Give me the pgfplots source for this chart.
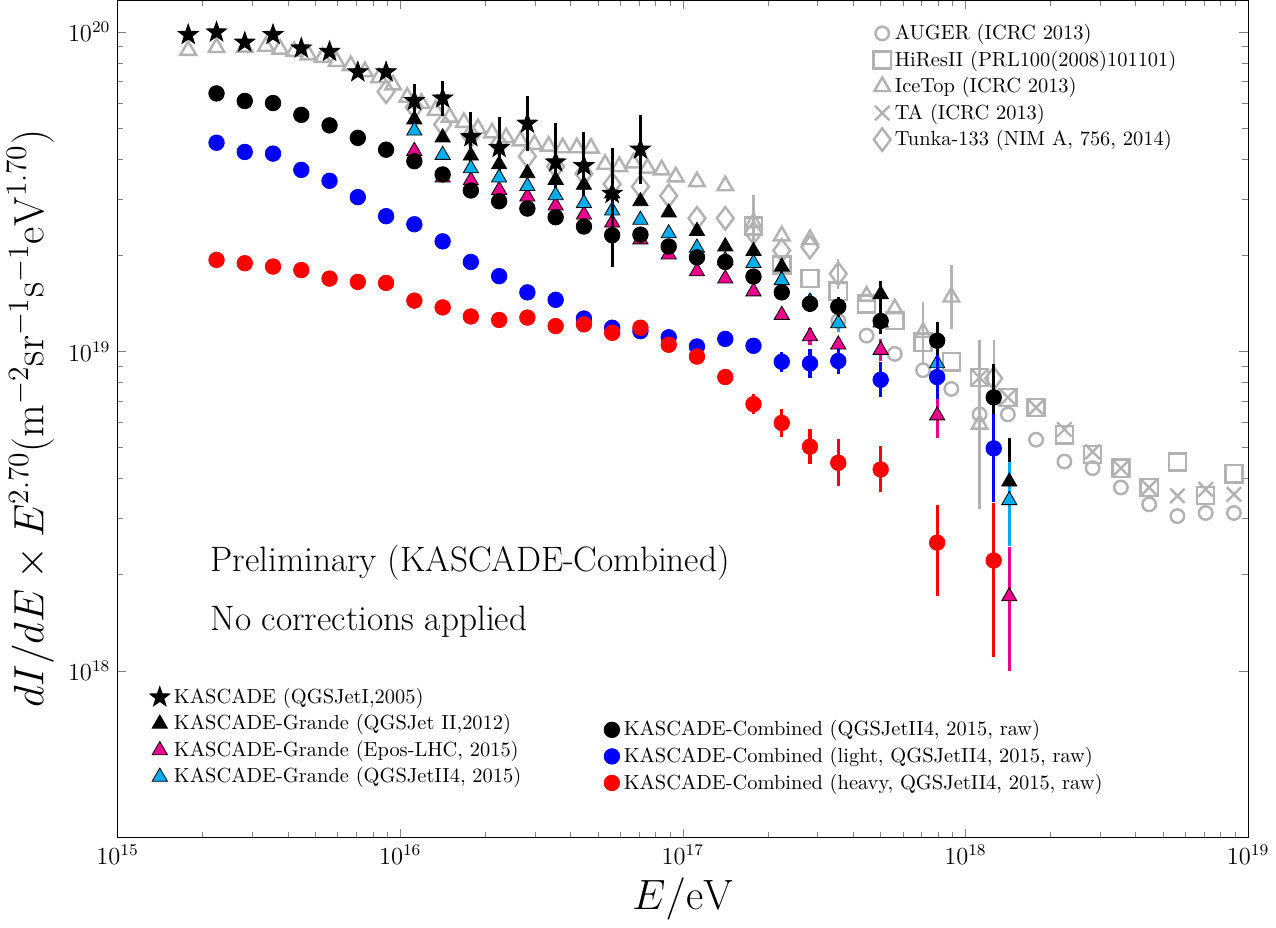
\documentclass[border=0pt]{standalone}
\usepackage{pgfplots}
\pgfplotsset{compat=1.18}
\usetikzlibrary{plotmarks}
\definecolor{gry}{RGB}{178,178,178}
\pgfdeclareplotmark{fstar}{%
 \pgfpathmoveto{\pgfpointpolar{90}{\pgfplotmarksize}}%
 \pgfpathlineto{\pgfpointpolar{126}{0.4\pgfplotmarksize}}%
 \pgfpathlineto{\pgfpointpolar{162}{\pgfplotmarksize}}%
 \pgfpathlineto{\pgfpointpolar{198}{0.4\pgfplotmarksize}}%
 \pgfpathlineto{\pgfpointpolar{234}{\pgfplotmarksize}}%
 \pgfpathlineto{\pgfpointpolar{270}{0.4\pgfplotmarksize}}%
 \pgfpathlineto{\pgfpointpolar{306}{\pgfplotmarksize}}%
 \pgfpathlineto{\pgfpointpolar{342}{0.4\pgfplotmarksize}}%
 \pgfpathlineto{\pgfpointpolar{18}{\pgfplotmarksize}}%
 \pgfpathlineto{\pgfpointpolar{54}{0.4\pgfplotmarksize}}%
 \pgfpathclose
 \pgfusepathqfillstroke}
\begin{document}
\begin{tikzpicture}
\begin{axis}[xmode=log, ymode=log, scale only axis, width=553.5pt, height=409.85pt,
  xmin=1e15, xmax=1e19, ymin=3.01e17, ymax=1.256e20, unbounded coords=jump,
  legend style={at={(0.663,0.9817)}, anchor=north west, draw=none, fill=none},
  legend cell align=left,
  xtick={1e15,1e16,1e17,1e18,1e19}, ytick={1e18,1e19,1e20},
  tick align=inside,
  xlabel={$E/\mathrm{eV}$},
  ylabel={$dI/dE\times E^{2.70}(\mathrm{m}^{-2}\mathrm{sr}^{-1}\mathrm{s}^{-1}\mathrm{eV}^{1.70})$},
  x label style={font=\huge}, y label style={font=\huge},
  tick label style={font=\large},
]
\addplot[gry, line width=1.2pt, forget plot] coordinates {
(1.778e17,1.981e19) (1.778e17,3.08e19) (1.778e17,nan)
(7.079e17,9.19e18) (7.079e17,1.429e19) (7.079e17,nan)
(8.913e17,1.178e19) (8.913e17,1.859e19) (8.913e17,nan)
(1.122e18,3.215e18) (1.122e18,1.089e19) (1.122e18,nan)
(3.548e17,1.568e19) (3.548e17,1.953e19) (3.548e17,nan)
(1.259e18,6.222e18) (1.259e18,1.088e19)};
\addplot[gry, only marks, mark=o, mark size=3.3pt, mark options={line width=1.2pt}] coordinates {
(3.548e17,1.245e19) (4.467e17,1.12e19) (5.623e17,9.82e18) (7.079e17,8.73e18) (8.913e17,7.63e18)
(1.122e18,6.35e18) (1.413e18,6.35e18) (1.778e18,5.29e18) (2.239e18,4.52e18) (2.818e18,4.31e18)
(3.548e18,3.75e18) (4.467e18,3.32e18) (5.623e18,3.05e18) (7.079e18,3.12e18) (8.913e18,3.12e18)};
\addlegendentry{AUGER (ICRC 2013)}
\addplot[gry, only marks, mark=square, mark size=4.2pt, mark options={line width=1.2pt}] coordinates {
(1.778e17,2.47e19) (2.239e17,1.865e19) (2.818e17,1.69e19) (3.548e17,1.543e19) (4.467e17,1.407e19)
(5.623e17,1.251e19) (7.079e17,1.068e19) (8.913e17,9.28e18) (1.122e18,8.29e18) (1.413e18,7.18e18)
(1.778e18,6.67e18) (2.239e18,5.48e18) (2.818e18,4.76e18) (3.548e18,4.31e18) (4.467e18,3.75e18)
(5.623e18,4.51e18) (7.079e18,3.54e18) (8.913e18,4.14e18)};
\addlegendentry{HiResII (PRL100(2008)101101)}
\addplot[gry, only marks, mark=triangle, mark size=4.4pt, mark options={line width=1.2pt}] coordinates {
(1.778e15,8.76e19) (2.239e15,8.94e19) (2.818e15,8.96e19) (3.350e15,9.02e19) (3.758e15,8.83e19)
(4.217e15,8.70e19) (4.732e15,8.48e19) (5.309e15,8.32e19) (5.957e15,8.08e19) (6.683e15,7.85e19)
(7.499e15,7.51e19) (8.414e15,7.19e19) (9.441e15,6.83e19) (1.059e16,6.25e19) (1.189e16,5.98e19)
(1.334e16,5.68e19) (1.496e16,5.41e19) (1.679e16,5.21e19) (1.884e16,4.98e19) (2.113e16,4.83e19)
(2.371e16,4.67e19) (2.661e16,4.56e19) (2.985e16,4.45e19) (3.350e16,4.39e19) (3.758e16,4.34e19)
(4.217e16,4.34e19) (4.732e16,4.33e19) (5.309e16,3.85e19) (5.957e16,3.79e19) (6.683e16,3.89e19)
(7.499e16,3.75e19) (8.414e16,3.70e19) (9.441e16,3.52e19) (1.122e17,3.40e19) (1.413e17,3.30e19)
(1.778e17,2.53e19) (2.239e17,2.30e19) (2.818e17,2.24e19) (4.467e17,1.49e19) (5.623e17,1.36e19)
(7.079e17,1.146e19) (8.913e17,1.48e19) (1.122e18,5.92e18)};
\addlegendentry{IceTop (ICRC 2013)}
\addplot[gry, only marks, mark=x, mark size=5pt, mark options={line width=1.2pt}] coordinates {
(1.122e18,8.29e18) (1.413e18,7.18e18) (1.778e18,6.67e18) (2.239e18,5.70e18) (2.818e18,4.85e18)
(3.548e18,4.31e18) (4.467e18,3.75e18) (5.623e18,3.53e18) (7.079e18,3.70e18) (8.913e18,3.57e18)};
\addlegendentry{TA (ICRC 2013)}
\addplot[gry, only marks, mark=diamond, mark size=5.5pt, mark options={line width=1.2pt}] coordinates {
(8.913e15,6.50e19) (1.122e16,5.81e19) (1.413e16,5.13e19) (1.778e16,4.73e19) (2.239e16,4.45e19)
(2.818e16,4.08e19) (3.548e16,3.79e19) (4.467e16,3.60e19) (5.623e16,3.34e19) (7.079e16,3.28e19)
(8.913e16,3.07e19) (1.122e17,2.61e19) (1.413e17,2.61e19) (1.778e17,2.35e19) (2.239e17,2.07e19)
(2.818e17,2.12e19) (3.548e17,1.75e19) (1.259e18,8.23e18)};
\addlegendentry{Tunka-133 (NIM A, 756, 2014)}
\end{axis}
\begin{axis}[xmode=log, ymode=log, scale only axis, width=553.5pt, height=409.85pt,
  xmin=1e15, xmax=1e19, ymin=3.01e17, ymax=1.256e20, hide axis, unbounded coords=jump,
  legend style={at={(0.0226,0.1887)}, anchor=north west, draw=none, fill=none},
  legend cell align=left]
\addplot[black, line width=1.5pt, forget plot] coordinates {
(1.122e16,5.414e19) (1.122e16,6.851e19) (1.122e16,nan)
(1.413e16,5.475e19) (1.413e16,7.025e19) (1.413e16,nan)
(1.778e16,3.907e19) (1.778e16,5.633e19) (1.778e16,nan)
(2.239e16,3.481e19) (2.239e16,5.412e19) (2.239e16,nan)
(2.818e16,4.239e19) (2.818e16,6.302e19) (2.818e16,nan)
(3.548e16,2.956e19) (3.548e16,5.169e19) (3.548e16,nan)
(4.467e16,2.991e19) (4.467e16,4.854e19) (4.467e16,nan)
(5.623e16,2.240e19) (5.623e16,4.343e19) (5.623e16,nan)
(7.079e16,3.342e19) (7.079e16,5.508e19) (7.079e16,nan)
(2.239e17,1.730e19) (2.239e17,1.950e19) (2.239e17,nan)
(5.012e17,1.372e19) (5.012e17,1.661e19) (5.012e17,nan)
(1.429e18,2.596e18) (1.429e18,5.349e18)};
\addplot[magenta, line width=1.5pt, forget plot] coordinates {
(2.818e17,1.048e19) (2.818e17,1.182e19) (2.818e17,nan)
(3.548e17,0.987e19) (3.548e17,1.113e19) (3.548e17,nan)
(5.012e17,0.931e19) (5.012e17,1.095e19) (5.012e17,nan)
(7.943e17,5.361e18) (7.943e17,7.403e18) (7.943e17,nan)
(1.429e18,9.97e17) (1.429e18,2.447e18)};
\addplot[cyan, line width=1.5pt, forget plot] coordinates {
(2.818e17,1.344e19) (2.818e17,1.516e19) (2.818e17,nan)
(3.548e17,1.151e19) (3.548e17,1.297e19) (3.548e17,nan)
(5.012e17,1.132e19) (5.012e17,1.328e19) (5.012e17,nan)
(7.943e17,8.25e18) (7.943e17,1.009e19) (7.943e17,nan)
(1.429e18,2.452e18) (1.429e18,4.511e18)};
\addplot[black, only marks, mark=fstar, mark size=5.2pt] coordinates {
(1.778e15,9.80e19) (2.239e15,9.98e19) (2.818e15,9.27e19) (3.548e15,9.80e19) (4.467e15,8.89e19)
(5.623e15,8.68e19) (7.079e15,7.49e19) (8.913e15,7.49e19) (1.122e16,6.09e19) (1.413e16,6.20e19)
(1.778e16,4.69e19) (2.239e16,4.34e19) (2.818e16,5.17e19) (3.548e16,3.91e19) (4.467e16,3.81e19)
(5.623e16,3.12e19) (7.079e16,4.29e19)};
\addlegendentry{KASCADE (QGSJetI,2005)}
\addplot[black, only marks, mark=triangle*, mark size=4.3pt] coordinates {
(1.122e16,5.32e19) (1.413e16,4.67e19) (1.778e16,4.10e19) (2.239e16,3.85e19) (2.818e16,3.61e19)
(3.548e16,3.44e19) (4.467e16,3.32e19) (5.623e16,3.12e19) (7.079e16,2.95e19) (8.913e16,2.72e19)
(1.122e17,2.38e19) (1.413e17,2.13e19) (1.778e17,2.06e19) (2.239e17,1.84e19) (5.012e17,1.51e19)
(1.429e18,3.91e18)};
\addlegendentry{KASCADE-Grande (QGSJet II,2012)}
\addplot[magenta, only marks, mark=triangle*, mark size=4.3pt, mark options={fill=magenta, draw=black}] coordinates {
(1.122e16,4.24e19) (1.413e16,3.50e19) (1.778e16,3.43e19) (2.239e16,3.20e19) (2.818e16,3.05e19)
(3.548e16,2.86e19) (4.467e16,2.68e19) (5.623e16,2.53e19) (7.079e16,2.24e19) (8.913e16,2.01e19)
(1.122e17,1.78e19) (1.413e17,1.69e19) (1.778e17,1.54e19) (2.239e17,1.30e19) (2.818e17,1.115e19)
(3.548e17,1.05e19) (5.012e17,1.01e19) (7.943e17,6.30e18) (1.429e18,1.71e18)};
\addlegendentry{KASCADE-Grande (Epos-LHC, 2015)}
\addplot[cyan, only marks, mark=triangle*, mark size=4.3pt, mark options={fill=cyan, draw=black}] coordinates {
(1.122e16,4.91e19) (1.413e16,4.12e19) (1.778e16,3.74e19) (2.239e16,3.50e19) (2.818e16,3.29e19)
(3.548e16,3.08e19) (4.467e16,2.91e19) (5.623e16,2.76e19) (7.079e16,2.58e19) (8.913e16,2.34e19)
(1.122e17,2.11e19) (1.413e17,1.93e19) (1.778e17,1.89e19) (2.239e17,1.67e19) (2.818e17,1.43e19)
(3.548e17,1.224e19) (5.012e17,1.23e19) (7.943e17,9.17e18) (1.429e18,3.42e18)};
\addlegendentry{KASCADE-Grande (QGSJetII4, 2015)}
\end{axis}
\begin{axis}[xmode=log, ymode=log, scale only axis, width=553.5pt, height=409.85pt,
  xmin=1e15, xmax=1e19, ymin=3.01e17, ymax=1.256e20, hide axis, unbounded coords=jump,
  legend style={at={(0.4246,0.1497)}, anchor=north west, draw=none, fill=none},
  legend cell align=left]
\addplot[black, line width=1.5pt, forget plot] coordinates {
(5.623e16,1.839e19) (5.623e16,2.901e19) (5.623e16,nan)
(2.818e17,1.325e19) (2.818e17,1.495e19) (2.818e17,nan)
(3.548e17,1.282e19) (3.548e17,1.485e19) (3.548e17,nan)
(5.012e17,1.132e19) (5.012e17,1.370e19) (5.012e17,nan)
(7.943e17,0.946e19) (7.943e17,1.232e19) (7.943e17,nan)
(1.259e18,5.636e18) (1.259e18,9.147e18)};
\addplot[black, only marks, mark=*, mark size=3.8pt] coordinates {
(2.239e15,6.42e19) (2.818e15,6.08e19) (3.548e15,5.99e19) (4.467e15,5.50e19) (5.623e15,5.10e19)
(7.079e15,4.66e19) (8.913e15,4.28e19) (1.122e16,3.94e19) (1.413e16,3.58e19) (1.778e16,3.19e19)
(2.239e16,2.95e19) (2.818e16,2.80e19) (3.548e16,2.63e19) (4.467e16,2.46e19) (5.623e16,2.31e19)
(7.079e16,2.32e19) (8.913e16,2.13e19) (1.122e17,1.97e19) (1.413e17,1.905e19) (1.778e17,1.715e19)
(2.239e17,1.53e19) (2.818e17,1.41e19) (3.548e17,1.38e19) (5.012e17,1.245e19) (7.943e17,1.08e19)
(1.259e18,7.18e18)};
\addlegendentry{KASCADE-Combined (QGSJetII4, 2015, raw)}
\addplot[blue, line width=1.5pt, forget plot] coordinates {
(2.239e17,8.621e18) (2.239e17,9.985e18) (2.239e17,nan)
(2.818e17,8.271e18) (2.818e17,1.016e19) (2.818e17,nan)
(3.548e17,8.481e18) (3.548e17,1.026e19) (3.548e17,nan)
(5.012e17,7.196e18) (5.012e17,9.234e18) (5.012e17,nan)
(7.943e17,7.072e18) (7.943e17,9.764e18) (7.943e17,nan)
(1.259e18,3.365e18) (1.259e18,6.381e18)};
\addplot[blue, only marks, mark=*, mark size=3.8pt] coordinates {
(2.239e15,4.50e19) (2.818e15,4.21e19) (3.548e15,4.16e19) (4.467e15,3.70e19) (5.623e15,3.42e19)
(7.079e15,3.04e19) (8.913e15,2.65e19) (1.122e16,2.50e19) (1.413e16,2.21e19) (1.778e16,1.905e19)
(2.239e16,1.72e19) (2.818e16,1.53e19) (3.548e16,1.45e19) (4.467e16,1.267e19) (5.623e16,1.186e19)
(7.079e16,1.157e19) (8.913e16,1.107e19) (1.122e17,1.036e19) (1.413e17,1.094e19) (1.778e17,1.041e19)
(2.239e17,9.28e18) (2.818e17,9.17e18) (3.548e17,9.33e18) (5.012e17,8.15e18) (7.943e17,8.31e18)
(1.259e18,4.97e18)};
\addlegendentry{KASCADE-Combined (light, QGSJetII4, 2015, raw)}
\addplot[red, line width=1.5pt, forget plot] coordinates {
(1.413e17,7.936e18) (1.413e17,8.684e18) (1.413e17,nan)
(1.778e17,6.354e18) (1.778e17,7.36e18) (1.778e17,nan)
(2.239e17,5.385e18) (2.239e17,6.615e18) (2.239e17,nan)
(2.818e17,4.441e18) (2.818e17,5.699e18) (2.818e17,nan)
(3.548e17,3.786e18) (3.548e17,5.304e18) (3.548e17,nan)
(5.012e17,3.621e18) (5.012e17,5.039e18) (5.012e17,nan)
(7.943e17,1.721e18) (7.943e17,3.306e18) (7.943e17,nan)
(1.259e18,1.103e18) (1.259e18,3.360e18)};
\addplot[red, only marks, mark=*, mark size=3.8pt] coordinates {
(2.239e15,1.934e19) (2.818e15,1.888e19) (3.548e15,1.843e19) (4.467e15,1.797e19) (5.623e15,1.69e19)
(7.079e15,1.65e19) (8.913e15,1.638e19) (1.122e16,1.442e19) (1.413e16,1.373e19) (1.778e16,1.286e19)
(2.239e16,1.254e19) (2.818e16,1.276e19) (3.548e16,1.20e19) (4.467e16,1.215e19) (5.623e16,1.143e19)
(7.079e16,1.186e19) (8.913e16,1.049e19) (1.122e17,9.63e18) (1.413e17,8.31e18) (1.778e17,6.84e18)
(2.239e17,5.97e18) (2.818e17,5.03e18) (3.548e17,4.48e18) (5.012e17,4.27e18) (7.943e17,2.52e18)
(1.259e18,2.215e18)};
\addlegendentry{KASCADE-Combined (heavy, QGSJetII4, 2015, raw)}
\end{axis}
\node[anchor=west, font=\LARGE] at (42pt,134.35pt) {Preliminary (KASCADE-Combined)};
\node[anchor=west, font=\LARGE] at (42pt,105.85pt) {No corrections applied};
\end{tikzpicture}
\end{document}
